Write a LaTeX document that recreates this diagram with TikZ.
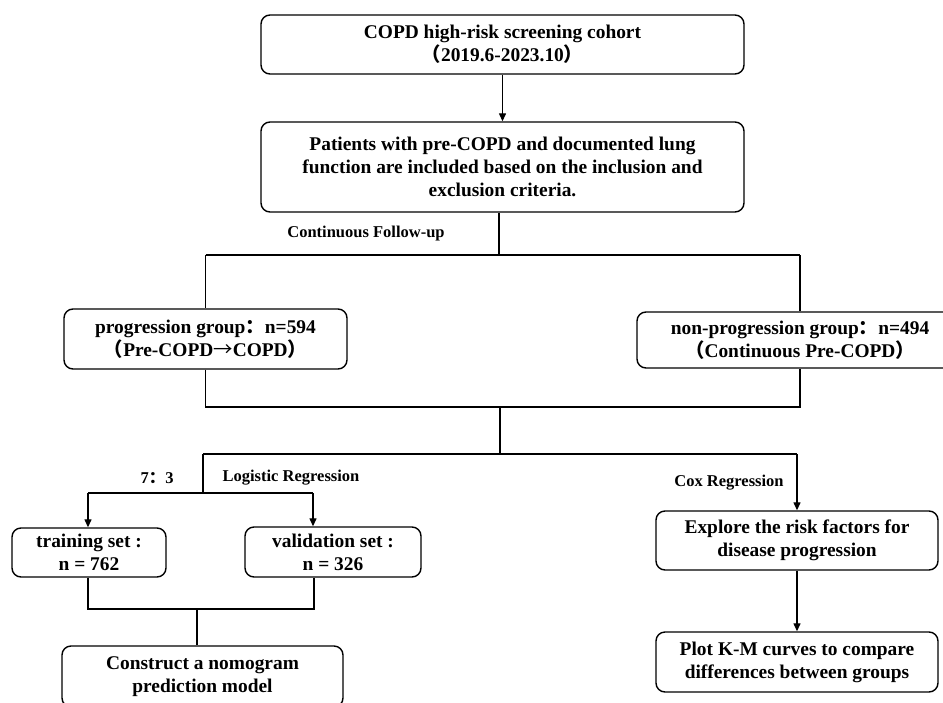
\documentclass[tikz,border=0pt]{standalone}
\usepackage{fontspec}
\setmainfont{Liberation Serif}
\newfontfamily\cjkf{Noto Sans CJK SC}
\usetikzlibrary{arrows.meta,calc}
\newcommand\cj[1]{{\cjkf #1}}
\begin{document}
\begin{tikzpicture}[x=1pt,y=-1pt,
  box/.style={draw,line width=1.4pt,rounded corners=9pt,align=center,inner sep=0pt,
    font=\fontsize{19.4}{23}\selectfont\bfseries},
  lab/.style={font=\fontsize{16.5}{19}\selectfont\bfseries,inner sep=0pt},
  conn/.style={line width=1.3pt},
  arr/.style={line width=1.3pt,-{Triangle[length=8pt,width=7pt]}}]
\useasboundingbox (0,0) rectangle (943,702);
\clip (0,0) rectangle (943,702);
\fill[white] (0,0) rectangle (943,702);

\node[box,minimum width=483,minimum height=59] (b1) at (502.5,44.5)
  {COPD high-risk screening cohort\\\cj{（}2019.6-2023.10\cj{）}};
\node[box,minimum width=483,minimum height=90] (b2) at (502.5,167)
  {Patients with pre-COPD and documented lung\\function are included based on the inclusion and\\exclusion criteria.};
\node[box,minimum width=283,minimum height=60] (prog) at (205.5,339)
  {progression group\cj{：}n=594\\\cj{（}Pre-COPD{\cjkf\mdseries →}COPD\cj{）}};
\node[box,minimum width=326,minimum height=56] (nonp) at (800,340)
  {non-progression group\cj{：}n=494\\\cj{（}Continuous Pre-COPD\cj{）}};
\node[box,minimum width=154,minimum height=49] (train) at (89,552.5)
  {training set :\\n = 762};
\node[box,minimum width=176,minimum height=50] (val) at (333,552)
  {validation set :\\n = 326};
\node[box,minimum width=281,minimum height=61] (cons) at (202.5,676.5)
  {Construct a nomogram\\prediction model};
\node[box,minimum width=282,minimum height=59] (expl) at (797,540.5)
  {Explore the risk factors for\\disease progression};
\node[box,minimum width=282,minimum height=60] (plot) at (797,662)
  {Plot K-M curves to compare\\differences between groups};

\node[lab] (lfu) at (366,234) {Continuous Follow-up};
\node[lab] (l73) at (157,478) {7\cj{：}3};
\node[lab] (llr) at (291,478) {Logistic Regression};
\node[lab] (lcox) at (729,483) {Cox Regression};

% junction coordinates
\coordinate (j1) at (499,255);
\coordinate (j1l) at (204,255);
\coordinate (j1r) at (800,255);
\coordinate (j2l) at (204,407);
\coordinate (j2r) at (800,407);
\coordinate (j2m) at (500,407);
\coordinate (j3m) at (500,454);
\coordinate (j3l) at (203,454);
\coordinate (j3r) at (800,454);
\coordinate (j4m) at (203,493);
\coordinate (j4l) at (88,493);
\coordinate (j4r) at (313,493);
\coordinate (j5l) at (88,609);
\coordinate (j5r) at (314,609);
\coordinate (j5m) at (197,609);

\draw[arr] (b1.south) -- (b2.north);
\draw[conn] (b2.south -| j1) -- (j1);
\draw[conn] (j1l -| prog.north) -- (j1r -| nonp.north);
\draw[conn] (j1l -| prog.north) -- (prog.north);
\draw[conn] (j1r -| nonp.north) -- (nonp.north);
\draw[conn] (prog.south) -- (j2l -| prog.south) -- (j2r -| nonp.south) -- (nonp.south);
\draw[conn] (j2m) -- (j3m);
\draw[conn] (j3l) -- (j3r -| expl.north);
\draw[arr] (j3r -| expl.north) -- (expl.north);
\draw[conn] (j3l) -- (j4m);
\draw[conn] (j4l) -- (j4r);
\draw[arr] (j4l) -- (j4l |- train.north);
\draw[arr] (j4r) -- (j4r |- val.north);
\draw[conn] (j5l |- train.south) -- (j5l) -- (j5r) -- (j5r |- val.south);
\draw[conn] (j5m) -- (j5m |- cons.north);
\draw[arr] (expl.south) -- (plot.north);
\end{tikzpicture}
\end{document}
